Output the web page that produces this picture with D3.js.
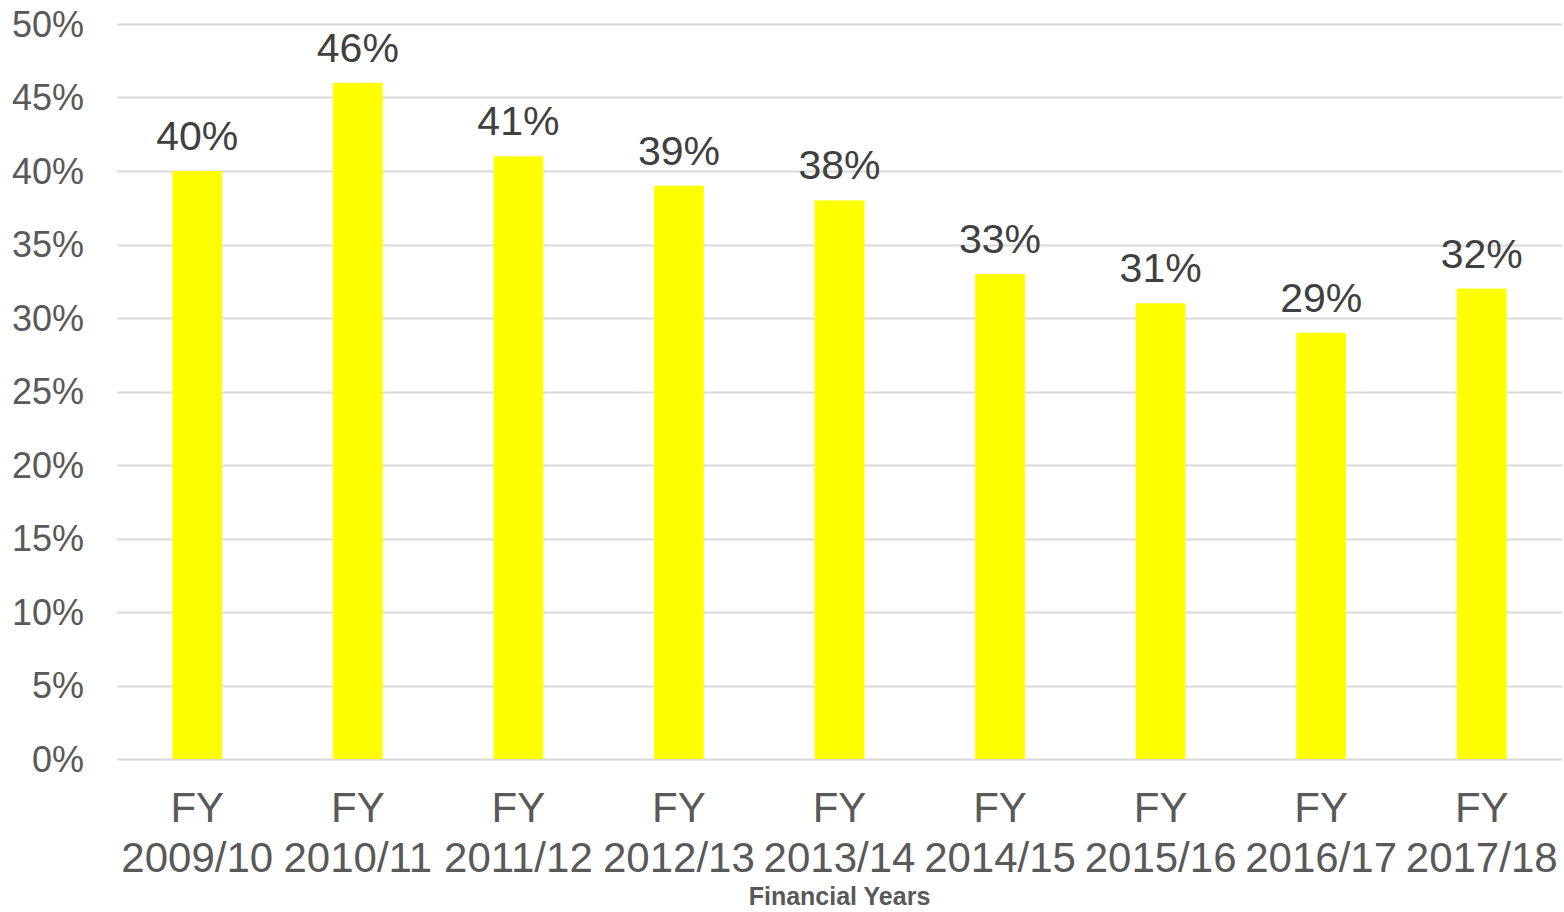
<!DOCTYPE html>
<html>
<head>
<meta charset="utf-8">
<script src="https://cdn.jsdelivr.net/npm/d3@7"></script>
<style>
  html, body { margin: 0; padding: 0; background: #fff; }
  svg { display: block; font-family: "Liberation Sans", Arial, sans-serif; }
</style>
</head>
<body>
<div id="chart"></div>
<script>
// Chart data
var years = ['2009/10', '2010/11', '2011/12', '2012/13', '2013/14', '2014/15', '2015/16', '2016/17', '2017/18'];
var shares = [40, 46, 41, 39, 38, 33, 31, 29, 32];
var yTicks = [0, 5, 10, 15, 20, 25, 30, 35, 40, 45, 50];

var width = 1564;
var height = 912;
var margin = { top: 24, right: 2, bottom: 153, left: 117 };

var svg = d3.select('#chart')
            .append('svg')
            .attr('width', width)
            .attr('height', height);

var x = d3.scaleBand()
          .domain(years)
          .range([margin.left, width - margin.right])
          .paddingInner(0.69)
          .paddingOuter(0.345);

var y = d3.scaleLinear()
          .domain([0, 50])
          .range([height - margin.bottom, margin.top]);

// Gridlines
svg.append('g')
   .attr('class', 'grid')
   .selectAll('line')
   .data(yTicks)
   .enter()
   .append('line')
   .attr('x1', margin.left)
   .attr('x2', width - margin.right)
   .attr('y1', function (d) { return Math.round(y(d)) + 0.5; })
   .attr('y2', function (d) { return Math.round(y(d)) + 0.5; })
   .attr('stroke', '#d9d9d9')
   .attr('stroke-width', 2);

// Y axis labels
svg.append('g')
   .selectAll('text')
   .data(yTicks)
   .enter()
   .append('text')
   .attr('x', 84)
   .attr('y', function (d) { return y(d); })
   .attr('dy', '0.35em')
   .attr('text-anchor', 'end')
   .attr('font-size', 36)
   .attr('fill', '#595959')
   .text(function (d) { return d + '%'; });

// Bars
svg.append('g')
   .selectAll('rect')
   .data(shares)
   .enter()
   .append('rect')
   .attr('x', function (d, i) { return x(years[i]); })
   .attr('y', function (d) { return y(d); })
   .attr('width', x.bandwidth())
   .attr('height', function (d) { return y(0) - y(d); })
   .attr('fill', '#ffff00');

// Value labels
svg.append('g')
   .selectAll('text')
   .data(shares)
   .enter()
   .append('text')
   .attr('x', function (d, i) { return x(years[i]) + x.bandwidth() / 2; })
   .attr('y', function (d) { return y(d) - 21; })
   .attr('text-anchor', 'middle')
   .attr('font-size', 41)
   .attr('fill', '#404040')
   .text(function (d) { return d + '%'; });

// X axis labels
var xl = svg.append('g')
            .selectAll('text')
            .data(years)
            .enter()
            .append('text')
            .attr('text-anchor', 'middle')
            .attr('font-size', 42)
            .attr('fill', '#595959');
xl.append('tspan')
  .attr('x', function (d) { return x(d) + x.bandwidth() / 2; })
  .attr('y', 822)
  .text('FY');
xl.append('tspan')
  .attr('x', function (d) { return x(d) + x.bandwidth() / 2; })
  .attr('y', 872)
  .text(function (d) { return d; });

// Axis title
svg.append('text')
   .attr('x', (margin.left + width - margin.right) / 2)
   .attr('y', 905)
   .attr('text-anchor', 'middle')
   .attr('font-size', 25)
   .attr('font-weight', 'bold')
   .attr('fill', '#595959')
   .text('Financial Years');
</script>
</body>
</html>
